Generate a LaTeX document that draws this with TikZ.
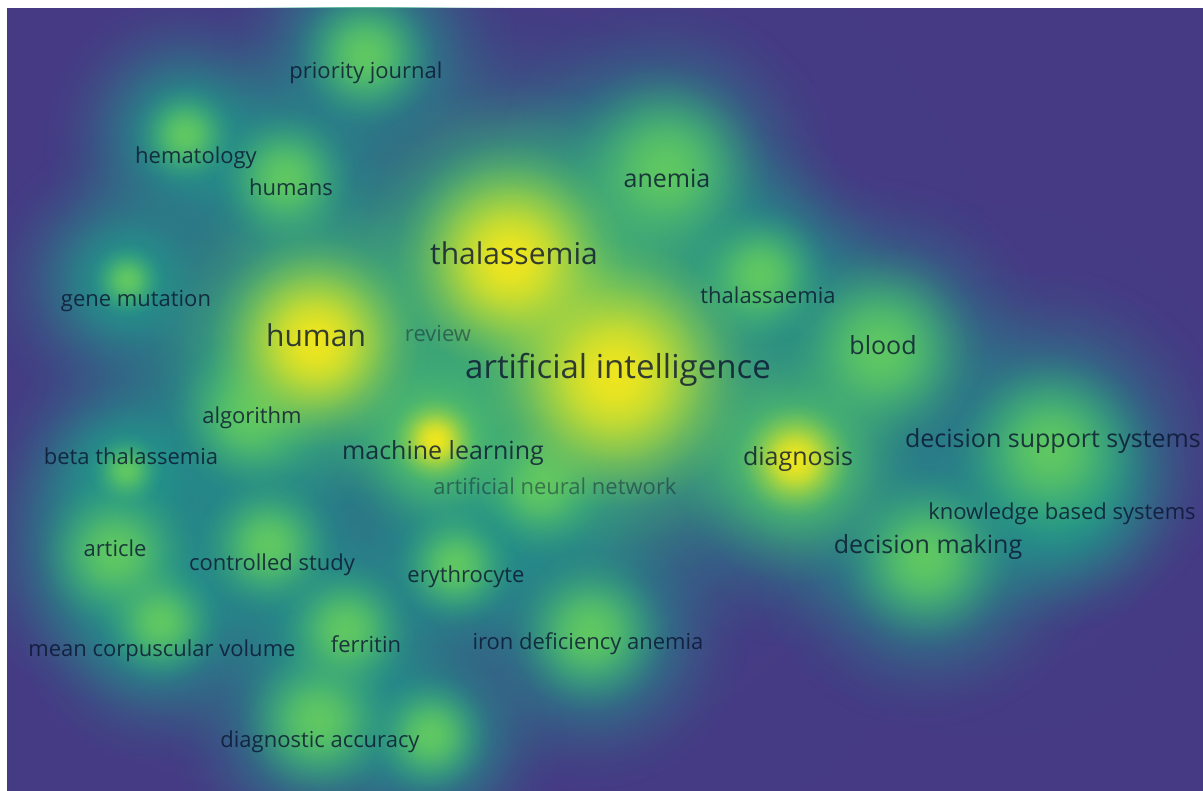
\documentclass[tikz,border=0pt]{standalone}
\usepackage{fontspec}
\setmainfont{Open Sans}
\usetikzlibrary{fadings}

\definecolor{vbg}{RGB}{70,58,132}
\definecolor{vblue}{RGB}{52,98,140}
\definecolor{vteal}{RGB}{34,152,138}
\definecolor{vgreen}{RGB}{96,200,98}
\definecolor{vyellow}{RGB}{240,230,30}
\definecolor{vink}{RGB}{10,20,48}

% soft round spot, opaque in the middle
\pgfdeclareradialshading{spotshade}{\pgfpointorigin}{color(0bp)=(pgftransparent!0); color(4bp)=(pgftransparent!8); color(8bp)=(pgftransparent!28); color(12bp)=(pgftransparent!55); color(16bp)=(pgftransparent!78); color(20bp)=(pgftransparent!93); color(24bp)=(pgftransparent!100); color(50bp)=(pgftransparent!100)}
\pgfdeclarefading{spot}{\pgfuseshading{spotshade}}

\begin{document}
\begin{tikzpicture}[x=1pt,y=-1pt,
  wash/.style={fill=vblue,path fading=spot,fill opacity=.35},
  glow/.style={fill=vteal,path fading=spot},
  hot/.style={fill=vgreen,path fading=spot},
  core/.style={fill=vyellow,path fading=spot},
  lbl/.style={text=vink,text opacity=.8,inner sep=0pt,text height=1.4em,text depth=0pt,font=\fontsize{22}{22}\selectfont},
  mid/.style={lbl,font=\fontsize{25}{25}\selectfont},
  big/.style={lbl,font=\fontsize{30}{30}\selectfont},
  huge/.style={lbl,font=\fontsize{33}{33}\selectfont},
  faint/.style={text opacity=.45}]

\useasboundingbox (0,0) rectangle (1203,791);
\fill[vbg] (7,8) rectangle (1203,791);

\begin{scope}
\clip (7,8) rectangle (1203,791);

% broad wash
\fill[wash] (520,380) circle (520);
\fill[wash] (260,480) circle (420);
\fill[wash] (980,470) circle (280);

% density spots
\fill[glow] (615,372) circle (300);
\fill[glow] (510,255) circle (260);
\fill[glow] (315,340) circle (240);
\fill[glow] (795,460) circle (195);
\fill[glow] (435,440) circle (180);
\fill[glow] (880,350) circle (180);
\fill[glow] (665,170) circle (180);
\fill[glow] (760,275) circle (150);
\fill[glow] (365,55) circle (160);
\fill[glow] (185,135) circle (150);
\fill[glow] (285,178) circle (150);
\fill[glow] (127,280) circle (150);
\fill[glow] (250,415) circle (160);
\fill[glow] (540,485) circle (160);
\fill[glow] (126,470) circle (140);
\fill[glow] (115,553) circle (160);
\fill[glow] (268,545) circle (155);
\fill[glow] (455,565) circle (140);
\fill[glow] (590,632) circle (165);
\fill[glow] (160,622) circle (150);
\fill[glow] (345,630) circle (150);
\fill[glow] (318,720) circle (160);
\fill[glow] (430,735) circle (140);
\fill[glow] (1050,450) circle (190);
\fill[glow] (1060,495) circle (140);
\fill[glow] (925,555) circle (180);

\fill[hot] (615,372) circle (220);
\fill[hot] (510,255) circle (185);
\fill[hot] (315,340) circle (175);
\fill[hot] (795,460) circle (130);
\fill[hot] (435,440) circle (110);
\fill[hot] (880,350) circle (110);
\fill[hot] (665,170) circle (110);
\fill[hot] (760,275) circle (75);
\fill[hot] (365,55) circle (75);
\fill[hot] (185,135) circle (55);
\fill[hot] (285,178) circle (75);
\fill[hot] (127,280) circle (40);
\fill[hot] (250,415) circle (85);
\fill[hot] (540,485) circle (75);
\fill[hot] (126,470) circle (40);
\fill[hot] (115,553) circle (85);
\fill[hot] (268,545) circle (75);
\fill[hot] (455,565) circle (65);
\fill[hot] (590,632) circle (85);
\fill[hot] (160,622) circle (65);
\fill[hot] (345,630) circle (75);
\fill[hot] (318,720) circle (85);
\fill[hot] (430,735) circle (65);
\fill[hot] (1050,450) circle (105);
\fill[hot] (925,558) circle (95);

\fill[core] (615,375) circle (140);
\fill[core] (510,260) circle (120);
\fill[core] (315,342) circle (110);
\fill[core] (795,460) circle (60);
\fill[core] (435,440) circle (45);
\end{scope}

% terms
\node[lbl] (priority) at (366,72) {priority journal};
\node[lbl] (hemato) at (196,157) {hematology};
\node[lbl] (humans) at (291,189) {humans};
\node[mid] (anemia) at (667,181) {anemia};
\node[big] (thal) at (514,258) {thalassemia};
\node[lbl] (genemut) at (136,300) {gene mutation};
\node[lbl] (thalae) at (768,297) {thalassaemia};
\node[big] (human) at (316,340) {human};
\node[lbl,faint] (review) at (438,335) {review};
\node[mid] (blood) at (883,348) {blood};
\node[huge] (ai) at (618,372) {artificial intelligence};
\node[lbl] (algo) at (252,417) {algorithm};
\node[mid] (dss) at (1053,441) {decision support systems};
\node[mid] (ml) at (443,453) {machine learning};
\node[lbl] (betathal) at (131,458) {beta thalassemia};
\node[mid] (diag) at (798,459) {diagnosis};
\node[lbl,faint] (ann) at (555,488) {artificial neural network};
\node[lbl] (kbs) at (1062,512) {knowledge based systems};
\node[mid] (decmak) at (928,547) {decision making};
\node[lbl] (article) at (115,549) {article};
\node[lbl] (ctrl) at (272,563) {controlled study};
\node[lbl] (ery) at (466,576) {erythrocyte};
\node[lbl] (ida) at (588,642) {iron deficiency anemia};
\node[lbl] (ferritin) at (366,645) {ferritin};
\node[lbl] (mcv) at (162,649) {mean corpuscular volume};
\node[lbl] (diagacc) at (320,740) {diagnostic accuracy};

\end{tikzpicture}
\end{document}
